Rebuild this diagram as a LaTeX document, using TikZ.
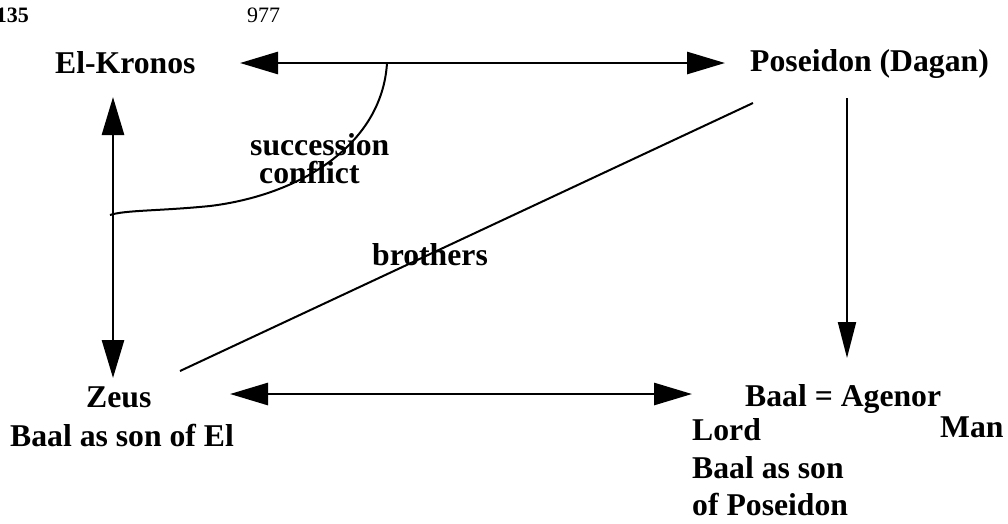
\documentclass[tikz,border=0pt]{standalone}
\usepackage{fontspec}
\setmainfont{Liberation Serif}
\usetikzlibrary{arrows.meta}
\begin{document}
\begin{tikzpicture}[x=1pt,y=-1pt,
  lbl/.style={inner sep=0pt,anchor=base west,font=\fontsize{31.7}{37}\selectfont\bfseries},
  thick3/.style={line width=2.8pt},
  thin2/.style={line width=2pt},
  dbltip/.style={{Triangle[length=38pt,width=22pt]}-{Triangle[length=38pt,width=22pt]}},
  midtip/.style={-{Triangle[length=36pt,width=18pt]}}]
\useasboundingbox (0,0) rectangle (1008,523);
\begin{scope}
\clip (0,0) rectangle (1008,523);
\node[inner sep=0pt,anchor=base east,font=\fontsize{22}{26}\selectfont\bfseries] (pg) at (29,22) {135};
\end{scope}
\node[inner sep=0pt,anchor=base west,font=\fontsize{22}{26}\selectfont] (pn) at (247,22) {977};
\node[lbl] (el) at (55,73) {El-Kronos};
\node[lbl] (pos) at (750,71) {Poseidon (Dagan)};
\node[lbl] (zeus) at (86,407) {Zeus};
\node[lbl] (zeus2) at (10,446) {Baal as son of El};
\node[lbl] (baal) at (745,406) {Baal = Agenor};
\node[lbl] (lord) at (692,440) {Lord};
\node[lbl] (man) at (940,437) {Man};
\node[lbl] (bs) at (692,478) {Baal as son};
\node[lbl] (op) at (692,515) {of Poseidon};
\node[lbl] (succ) at (250,155) {succession};
\node[lbl] (conf) at (259,183) {conflict};
\node[lbl] (bro) at (372,265) {brothers};
% coordinates
\coordinate (tl) at (240,63);
\coordinate (tr) at (725,63);
\coordinate (tm) at (387,63);
\coordinate (lt) at (113,97);
\coordinate (lb) at (113,378);
\coordinate (lm) at (110,215);
\coordinate (bl) at (230,394);
\coordinate (br) at (692,394);
\coordinate (rt) at (847,98);
\coordinate (rb) at (847,358);
\coordinate (da) at (180,371);
\coordinate (db) at (753,103);
% connectors
\draw[thick3,dbltip] (tl) -- (tr);
\draw[thick3,dbltip] (lt) -- (lb);
\draw[thick3,dbltip] (bl) -- (br);
\draw[thin2,midtip] (rt) -- (rb);
\draw[thin2] (da) -- (db);
\draw[thin2] (tm) .. controls (382,145) and (300,195) .. (210,206) .. controls (160,211) and (125,210) .. (lm);
\end{tikzpicture}
\end{document}
